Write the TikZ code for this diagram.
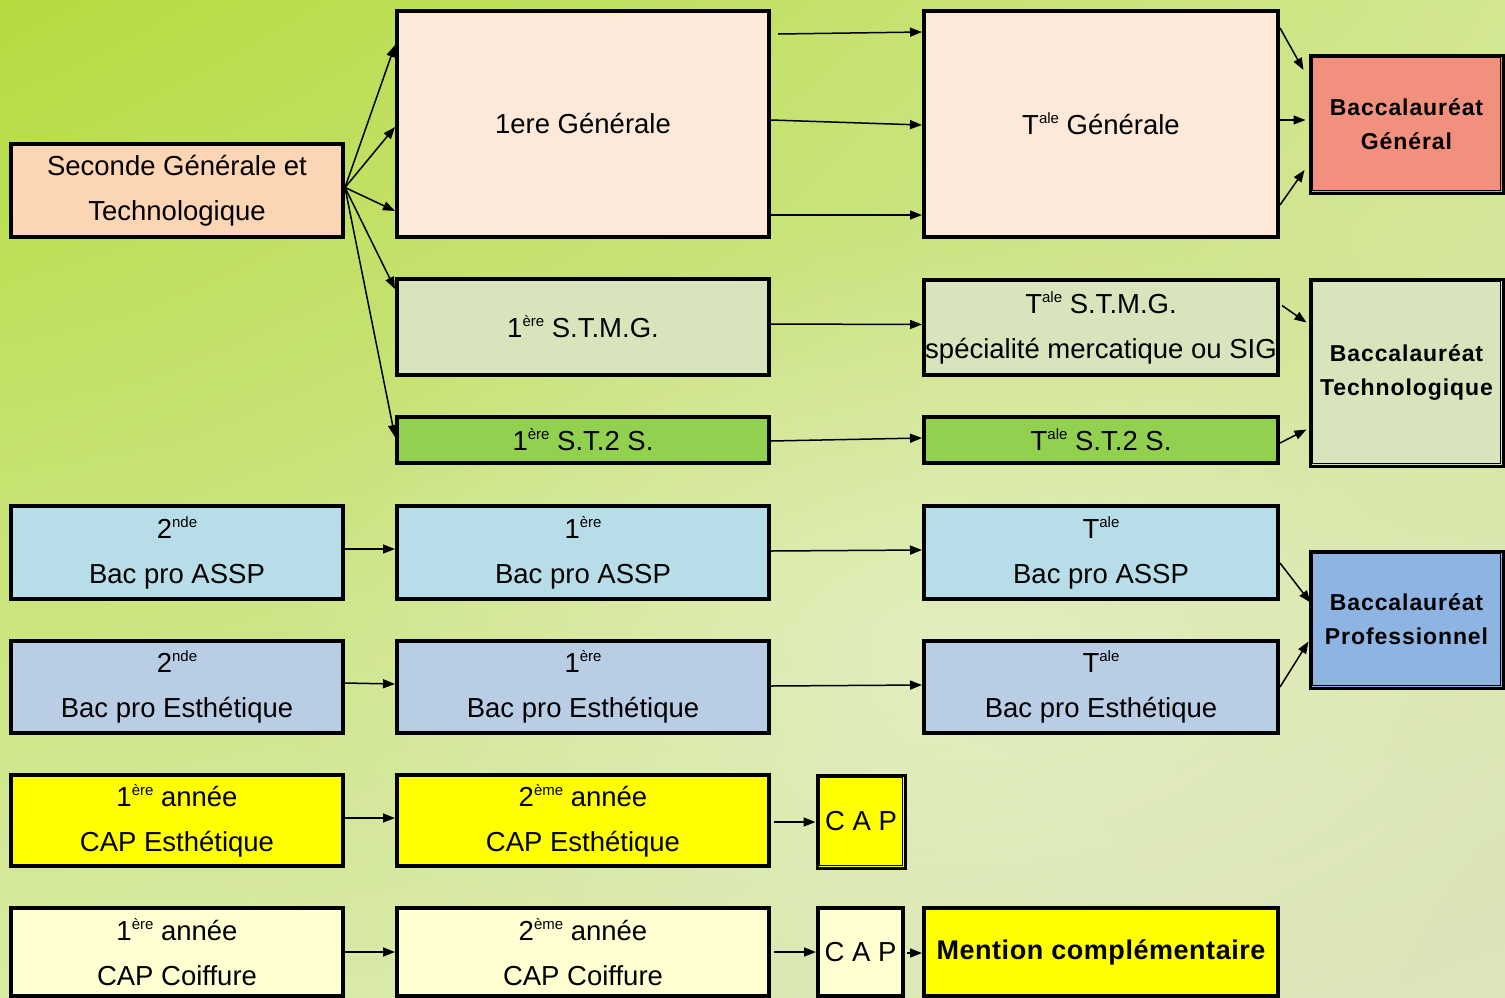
\documentclass[tikz,border=0pt]{standalone}
\usepackage{fontspec}
\setmainfont{Liberation Sans}
\newfontfamily\bacfont{Liberation Sans}[LetterSpace=4]
\newfontfamily\menfont{Liberation Sans}[LetterSpace=2]
\usetikzlibrary{arrows.meta,fadings,shadings}
\tikzfading[name=softblob, inner color=transparent!0, outer color=transparent!100]
\definecolor{bgA}{HTML}{B3DB3E}
\definecolor{bgB}{HTML}{D2E790}
\definecolor{bgC}{HTML}{D8EBA4}
\definecolor{bgD}{HTML}{DCE4BC}
\definecolor{cSec}{HTML}{FCD5B4}
\definecolor{cGen}{HTML}{FDE9D9}
\definecolor{cStmg}{HTML}{D7E4BC}
\definecolor{cSt}{HTML}{92D050}
\definecolor{cAssp}{HTML}{B7DEE8}
\definecolor{cEst}{HTML}{B9CDE5}
\definecolor{cYel}{HTML}{FFFF00}
\definecolor{cCoif}{HTML}{FFFFD2}
\definecolor{cBacG}{HTML}{F2907E}
\definecolor{cBacP}{HTML}{8DB4E2}
\newcommand\sx[1]{\raisebox{11pt}{\fontsize{15}{15}\selectfont #1}}
\tikzset{
  bx/.style={draw=black, line width=4pt, inner sep=0pt, align=center,
    font=\fontsize{27.5}{45}\selectfont},
  bac/.style={draw=black, line width=3pt, inner sep=0pt, align=center,
    font=\bacfont\bfseries\fontsize{23}{34}\selectfont},
  arr/.style={line width=1.5pt, -{Triangle[length=12pt,width=9pt]}},
}
\begin{document}
\begin{tikzpicture}[x=1pt,y=-1pt]
\useasboundingbox (0,0) rectangle (1505,997);
\shade[upper left=bgA, upper right=bgB, lower left=bgC, lower right=bgD] (0,0) rectangle (1505,997);
\fill[white, opacity=0.35, path fading=softblob] (950,640) ellipse (700 and 420);

% column 1
\node[bx, fill=cSec, minimum width=332pt, minimum height=93pt] (sec) at (177,190.5) {Seconde Générale et\\Technologique};
\node[bx, fill=cAssp, minimum width=332pt, minimum height=93pt] (assp2) at (177,552.5) {2\sx{nde}\\Bac pro ASSP};
\node[bx, fill=cEst, minimum width=332pt, minimum height=92pt] (est2) at (177,687) {2\sx{nde}\\Bac pro Esthétique};
\node[bx, fill=cYel, minimum width=332pt, minimum height=91pt] (cape1) at (177,820.5) {1\sx{ère} année\\CAP Esthétique};
\node[bx, fill=cCoif, minimum width=332pt, minimum height=88pt] (capc1) at (177,952) {1\sx{ère} année\\CAP Coiffure};

% column 2
\node[bx, fill=cGen, minimum width=372pt, minimum height=226pt] (gen1) at (583,124) {1ere Générale};
\node[bx, fill=cStmg, minimum width=372pt, minimum height=96pt] (stmg1) at (583,327) {1\sx{ère} S.T.M.G.};
\node[bx, fill=cSt, minimum width=372pt, minimum height=46pt] (sts1) at (583,440) {1\sx{ère} S.T.2 S.};
\node[bx, fill=cAssp, minimum width=372pt, minimum height=93pt] (assp1) at (583,552.5) {1\sx{ère}\\Bac pro ASSP};
\node[bx, fill=cEst, minimum width=372pt, minimum height=92pt] (est1) at (583,687) {1\sx{ère}\\Bac pro Esthétique};
\node[bx, fill=cYel, minimum width=372pt, minimum height=91pt] (cape2) at (583,820.5) {2\sx{ème} année\\CAP Esthétique};
\node[bx, fill=cCoif, minimum width=372pt, minimum height=88pt] (capc2) at (583,952) {2\sx{ème} année\\CAP Coiffure};

% CAP boxes
\node[bac, font=\fontsize{27.5}{45}\selectfont, fill=cYel, minimum width=88pt, minimum height=93pt] (cape) at (861,821.5) {C A P};
\draw[line width=1.2pt] ([shift={(4pt,-4pt)}]cape.north west) rectangle ([shift={(-4pt,4pt)}]cape.south east);
\node[bx, fill=cCoif, minimum width=85pt, minimum height=88pt] (capc) at (860.5,952) {C A P};

% column 4
\node[bx, fill=cGen, minimum width=354pt, minimum height=226pt] (genT) at (1101,124) {T\sx{ale} Générale};
\node[bx, fill=cStmg, minimum width=354pt, minimum height=95pt] (stmgT) at (1101,327.5) {T\sx{ale} S.T.M.G.\\spécialité mercatique ou SIG};
\node[bx, fill=cSt, minimum width=354pt, minimum height=46pt] (stsT) at (1101,440) {T\sx{ale} S.T.2 S.};
\node[bx, fill=cAssp, minimum width=354pt, minimum height=93pt] (asspT) at (1101,552.5) {T\sx{ale}\\Bac pro ASSP};
\node[bx, fill=cEst, minimum width=354pt, minimum height=92pt] (estT) at (1101,687) {T\sx{ale}\\Bac pro Esthétique};
\node[bx, fill=cYel, minimum width=354pt, minimum height=88pt, font=\menfont\bfseries\fontsize{27}{30}\selectfont] (men) at (1101,952) {Mention complémentaire};

% column 5 (bac)
\node[bac, fill=cBacG, minimum width=193pt, minimum height=138pt] (bacG) at (1406.5,124) {Baccalauréat\\Général};
\node[bac, fill=cStmg, minimum width=193pt, minimum height=187pt] (bacT) at (1406.5,372.5) {Baccalauréat\\Technologique};
\node[bac, fill=cBacP, minimum width=193pt, minimum height=137pt] (bacP) at (1406.5,619.5) {Baccalauréat\\Professionnel};
\foreach \n in {bacG,bacT,bacP}
  \draw[line width=1.2pt] ([shift={(4pt,-4pt)}]\n.north west) rectangle ([shift={(-4pt,4pt)}]\n.south east);

% arrows
\draw[arr] ([yshift=3pt]sec.east) -- ([yshift=79pt]gen1.west);
\draw[arr] ([yshift=3pt]sec.east) -- ([yshift=-3pt]gen1.west);
\draw[arr] ([yshift=3pt]sec.east) -- ([yshift=-87pt]gen1.west);
\draw[arr] ([yshift=3pt]sec.east) -- ([yshift=38pt]stmg1.west);
\draw[arr] ([yshift=3pt]sec.east) -- ([yshift=3pt]sts1.west);

\draw[arr] ([xshift=7pt,yshift=90pt]gen1.east) -- ([yshift=92pt]genT.west);
\draw[arr] ([yshift=4pt]gen1.east) -- ([yshift=-1pt]genT.west);
\draw[arr] ([yshift=-91pt]gen1.east) -- ([yshift=-91pt]genT.west);

\draw[arr] ([yshift=96pt]genT.east) -- ([xshift=-5pt,yshift=54pt]bacG.west);
\draw[arr] ([yshift=4pt]genT.east) -- ([xshift=-3pt,yshift=4pt]bacG.west);
\draw[arr] ([yshift=-81pt]genT.east) -- ([xshift=-4pt,yshift=-46pt]bacG.west);

\draw[arr] ([xshift=-3pt,yshift=3pt]stmg1.east) -- ([yshift=3pt]stmgT.west);
\draw[arr] ([xshift=2pt,yshift=22pt]stmgT.east) -- ([xshift=-2pt,yshift=50pt]bacT.west);
\draw[arr] ([yshift=-1pt]sts1.east) -- ([yshift=2pt]stsT.west);
\draw[arr] ([yshift=-3pt]stsT.east) -- ([xshift=-2pt,yshift=-57pt]bacT.west);

\draw[arr] ([yshift=3.5pt]assp2.east) -- ([yshift=3.5pt]assp1.west);
\draw[arr] ([yshift=1.5pt]assp1.east) -- ([yshift=2.5pt]asspT.west);
\draw[arr] ([yshift=-10.5pt]asspT.east) -- ([xshift=2pt,yshift=17pt]bacP.west);
\draw[arr] (estT.east) -- ([yshift=-22pt]bacP.west);

\draw[arr] ([yshift=4pt]est2.east) -- ([yshift=3pt]est1.west);
\draw[arr] ([yshift=1pt]est1.east) -- ([yshift=2pt]estT.west);

\draw[arr] ([yshift=2.5pt]cape1.east) -- ([yshift=2.5pt]cape2.west);
\draw[arr] ([xshift=3pt,yshift=-1.5pt]cape2.east) -- ([yshift=-0.5pt]cape.west);
\draw[arr] (capc1.east) -- (capc2.west);
\draw[arr] ([xshift=3pt]capc2.east) -- (capc.west);
\draw[arr] ([xshift=2pt,yshift=-1pt]capc.east) -- ([yshift=-1pt]men.west);
\end{tikzpicture}
\end{document}
